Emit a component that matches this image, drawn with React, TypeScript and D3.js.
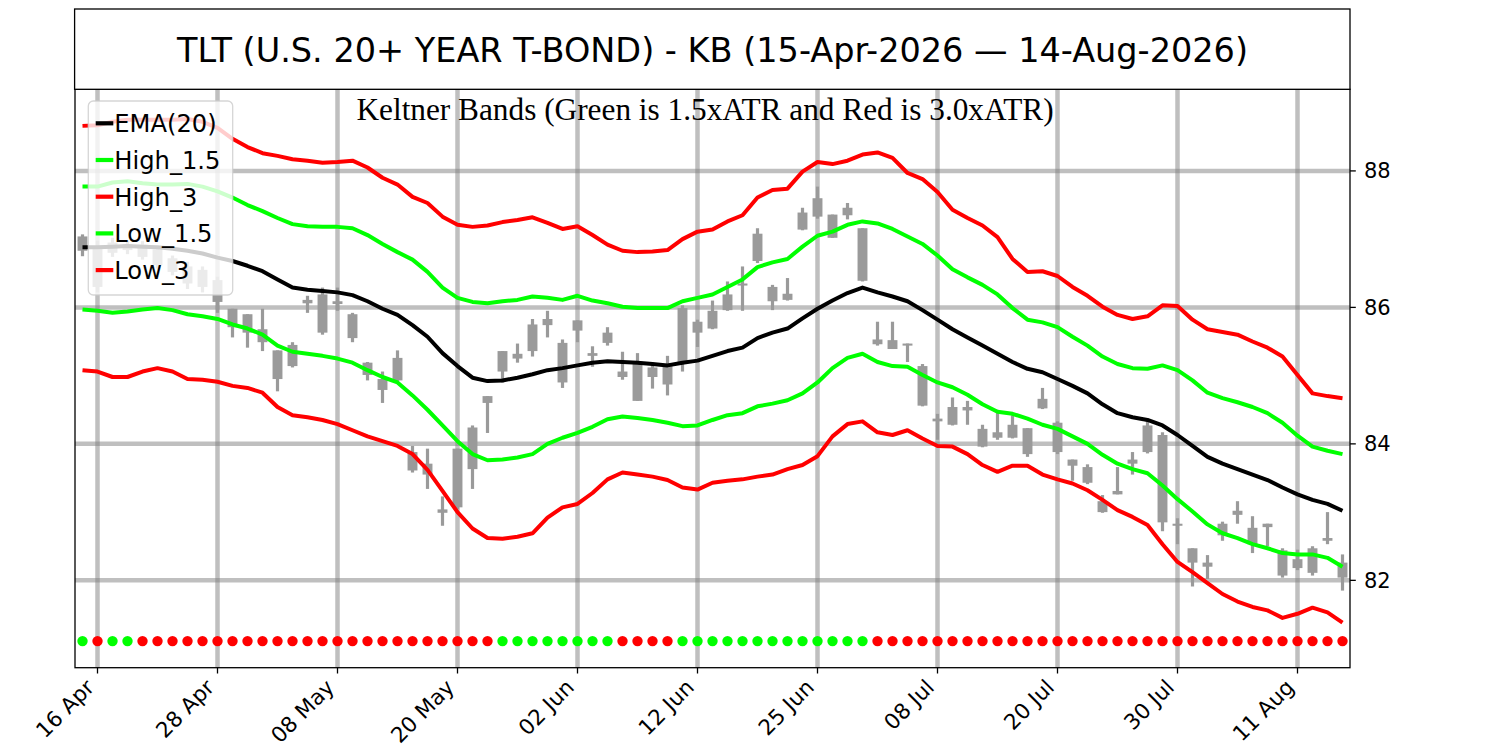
import React from "react";
import * as d3 from "d3";

// ── Data ──────────────────────────────────────────────────────────────────────

const dates = [
  "15 Apr", "16 Apr", "17 Apr", "20 Apr", "21 Apr", "22 Apr", "23 Apr", "24 Apr", "27 Apr", "28 Apr",
  "29 Apr", "30 Apr", "01 May", "04 May", "05 May", "06 May", "07 May", "08 May", "11 May", "12 May",
  "13 May", "14 May", "15 May", "18 May", "19 May", "20 May", "21 May", "22 May", "26 May", "27 May",
  "28 May", "29 May", "01 Jun", "02 Jun", "03 Jun", "04 Jun", "05 Jun", "08 Jun", "09 Jun", "10 Jun",
  "11 Jun", "12 Jun", "15 Jun", "16 Jun", "17 Jun", "18 Jun", "22 Jun", "23 Jun", "24 Jun", "25 Jun",
  "26 Jun", "29 Jun", "30 Jun", "01 Jul", "02 Jul", "06 Jul", "07 Jul", "08 Jul", "09 Jul", "10 Jul",
  "13 Jul", "14 Jul", "15 Jul", "16 Jul", "17 Jul", "20 Jul", "21 Jul", "22 Jul", "23 Jul", "24 Jul",
  "27 Jul", "28 Jul", "29 Jul", "30 Jul", "31 Jul", "03 Aug", "04 Aug", "05 Aug", "06 Aug", "07 Aug",
  "10 Aug", "11 Aug", "12 Aug", "13 Aug", "14 Aug",
];

const xTickLabels = [
  "16 Apr", "28 Apr", "08 May", "20 May", "02 Jun", "12 Jun",
  "25 Jun", "08 Jul", "20 Jul", "30 Jul", "11 Aug",
];
const yTicks = [82, 84, 86, 88];

const openPx = [
  86.83, 86.90, 86.80, 86.84, 86.92, 86.85, 86.72, 86.60, 86.55, 86.40,
  85.98, 85.90, 85.68, 85.37, 85.45, 86.11, 86.19, 86.09, 85.90, 85.19,
  84.95, 85.26, 83.88, 83.71, 83.04, 83.93, 84.24, 84.70, 85.06, 85.25,
  85.36, 85.74, 84.90, 85.66, 85.29, 85.48, 85.06, 85.20, 85.12, 85.14,
  85.20, 85.63, 85.69, 85.96, 86.32, 86.68, 86.09, 86.11, 87.14, 87.33,
  87.02, 87.35, 87.16, 85.53, 85.52, 85.47, 85.14, 84.37, 84.54, 84.54,
  84.22, 84.17, 84.28, 84.23, 84.66, 84.31, 83.77, 83.66, 83.16, 83.31,
  83.77, 84.27, 84.13, 82.83, 82.47, 82.26, 82.83, 83.02, 82.77, 82.83,
  82.44, 82.31, 82.47, 82.62, 82.26,
];
const closePx = [
  87.04, 86.30, 86.95, 86.93, 86.74, 86.62, 86.52, 86.35, 86.30, 86.08,
  85.71, 85.63, 85.49, 84.95, 85.14, 86.06, 85.63, 86.05, 85.55, 85.01,
  84.79, 84.93, 83.61, 83.55, 82.99, 83.07, 83.63, 84.60, 85.36, 85.32,
  85.75, 85.83, 85.48, 85.81, 85.33, 85.63, 84.98, 84.63, 84.98, 84.87,
  85.99, 85.79, 85.95, 86.19, 86.35, 87.08, 86.30, 86.20, 87.39, 87.60,
  87.36, 87.46, 86.39, 85.46, 85.39, 85.44, 84.56, 84.33, 84.28, 84.49,
  83.96, 84.09, 84.09, 83.85, 84.52, 83.88, 83.68, 83.43, 83.00, 83.26,
  83.71, 83.88, 82.85, 82.80, 82.26, 82.20, 82.66, 82.96, 82.53, 82.78,
  82.07, 82.18, 82.11, 82.58, 82.04,
];
const highPx = [
  87.07, 86.98, 87.02, 86.98, 86.97, 86.90, 86.76, 86.67, 86.60, 86.45,
  85.98, 85.90, 85.98, 85.37, 85.49, 86.17, 86.29, 86.29, 85.92, 85.20,
  85.06, 85.37, 83.97, 83.93, 83.23, 83.93, 84.27, 84.70, 85.36, 85.47,
  85.83, 85.95, 85.53, 85.81, 85.43, 85.71, 85.35, 85.33, 85.19, 85.29,
  86.03, 85.82, 86.10, 86.38, 86.60, 87.16, 86.33, 86.43, 87.46, 87.77,
  87.36, 87.53, 87.16, 85.79, 85.79, 85.47, 85.17, 84.44, 84.68, 84.63,
  84.28, 84.50, 84.42, 84.23, 84.82, 84.33, 83.77, 83.70, 83.25, 83.66,
  83.88, 84.33, 84.17, 82.91, 82.47, 82.37, 82.86, 83.16, 82.94, 82.83,
  82.47, 82.45, 82.50, 83.00, 82.38,
];
const lowPx = [
  86.75, 86.22, 86.74, 86.78, 86.70, 86.57, 86.47, 86.27, 86.22, 85.92,
  85.56, 85.41, 85.36, 84.77, 85.12, 85.92, 85.60, 85.95, 85.49, 84.93,
  84.60, 84.90, 83.58, 83.34, 82.80, 83.04, 83.34, 84.16, 84.90, 85.19,
  85.28, 85.56, 84.82, 85.49, 85.13, 85.44, 84.94, 84.63, 84.81, 84.71,
  85.06, 85.42, 85.68, 85.95, 85.95, 86.65, 85.96, 86.10, 87.13, 87.30,
  87.02, 87.29, 86.38, 85.44, 85.39, 85.20, 84.55, 84.06, 84.27, 84.28,
  83.95, 84.06, 84.08, 83.81, 84.51, 83.85, 83.46, 83.41, 82.99, 83.26,
  83.55, 83.86, 82.72, 82.53, 81.91, 82.02, 82.58, 82.83, 82.40, 82.50,
  82.04, 82.15, 82.07, 82.53, 81.85,
];

const ema20 = [
  86.88, 86.88, 86.89, 86.90, 86.89, 86.88, 86.86, 86.83, 86.79, 86.73,
  86.68, 86.61, 86.53, 86.41, 86.29, 86.26, 86.24, 86.22, 86.18, 86.09,
  85.98, 85.89, 85.74, 85.57, 85.33, 85.14, 84.97, 84.92, 84.93, 84.97,
  85.02, 85.08, 85.11, 85.15, 85.19, 85.21, 85.20, 85.19, 85.17, 85.15,
  85.19, 85.22, 85.29, 85.36, 85.41, 85.55, 85.63, 85.69, 85.84, 85.98,
  86.10, 86.21, 86.29, 86.22, 86.16, 86.09, 85.96, 85.82, 85.68, 85.56,
  85.44, 85.32, 85.20, 85.10, 85.05, 84.95, 84.85, 84.74, 84.58, 84.45,
  84.39, 84.35, 84.27, 84.13, 83.97, 83.81, 83.71, 83.63, 83.55, 83.47,
  83.36, 83.26, 83.18, 83.12, 83.02,
];
const high15 = [
  87.77, 87.77, 87.83, 87.85, 87.82, 87.80, 87.80, 87.81, 87.77, 87.70,
  87.61, 87.50, 87.41, 87.31, 87.22, 87.19, 87.18, 87.18, 87.16, 87.06,
  86.93, 86.81, 86.70, 86.52, 86.29, 86.14, 86.08, 86.06, 86.09, 86.11,
  86.16, 86.14, 86.11, 86.17, 86.10, 86.06, 86.01, 85.99, 85.99, 85.99,
  86.09, 86.14, 86.19, 86.30, 86.41, 86.59, 86.66, 86.71, 86.89, 87.05,
  87.11, 87.21, 87.26, 87.23, 87.15, 87.04, 86.93, 86.76, 86.56, 86.44,
  86.33, 86.19, 85.99, 85.82, 85.78, 85.71, 85.57, 85.44, 85.28, 85.17,
  85.11, 85.10, 85.15, 85.08, 84.93, 84.75, 84.67, 84.61, 84.54, 84.45,
  84.31, 84.12, 83.96, 83.90, 83.85,
];
const high3 = [
  88.66, 88.67, 88.72, 88.75, 88.75, 88.75, 88.75, 88.76, 88.72, 88.63,
  88.47, 88.35, 88.26, 88.22, 88.17, 88.15, 88.12, 88.13, 88.15, 88.05,
  87.90, 87.80, 87.62, 87.53, 87.33, 87.21, 87.18, 87.20, 87.25, 87.28,
  87.32, 87.24, 87.15, 87.19, 87.06, 86.92, 86.83, 86.81, 86.82, 86.84,
  87.00, 87.11, 87.14, 87.26, 87.35, 87.61, 87.72, 87.74, 87.99, 88.13,
  88.10, 88.15, 88.24, 88.27, 88.19, 87.97, 87.88, 87.69, 87.43, 87.31,
  87.20, 87.03, 86.71, 86.52, 86.53, 86.46, 86.30, 86.17, 86.01, 85.89,
  85.83, 85.87, 86.03, 86.02, 85.82, 85.68, 85.64, 85.60, 85.50, 85.41,
  85.28, 85.01, 84.74, 84.70, 84.67,
];
const low15 = [
  85.97, 85.95, 85.92, 85.94, 85.97, 85.99, 85.96, 85.90, 85.87, 85.83,
  85.75, 85.69, 85.60, 85.44, 85.35, 85.32, 85.29, 85.25, 85.19, 85.08,
  84.98, 84.90, 84.71, 84.50, 84.27, 84.04, 83.85, 83.76, 83.77, 83.80,
  83.85, 84.00, 84.09, 84.16, 84.25, 84.36, 84.40, 84.38, 84.35, 84.31,
  84.26, 84.27, 84.35, 84.42, 84.45, 84.55, 84.59, 84.64, 84.74, 84.90,
  85.11, 85.26, 85.32, 85.20, 85.14, 85.13, 85.01, 84.90, 84.83, 84.72,
  84.58, 84.47, 84.44, 84.37, 84.28, 84.22, 84.11, 84.00, 83.84, 83.71,
  83.63, 83.57, 83.39, 83.19, 83.01, 82.82, 82.69, 82.62, 82.53, 82.47,
  82.40, 82.38, 82.38, 82.33, 82.20,
];
const low3 = [
  85.08, 85.06, 84.98, 84.98, 85.06, 85.11, 85.06, 84.95, 84.94, 84.91,
  84.85, 84.82, 84.75, 84.54, 84.42, 84.39, 84.35, 84.29, 84.20, 84.11,
  84.04, 83.97, 83.85, 83.62, 83.31, 83.00, 82.76, 82.62, 82.61, 82.64,
  82.69, 82.92, 83.07, 83.12, 83.28, 83.48, 83.58, 83.55, 83.52, 83.47,
  83.36, 83.33, 83.43, 83.46, 83.48, 83.52, 83.55, 83.63, 83.69, 83.82,
  84.11, 84.29, 84.33, 84.17, 84.13, 84.20, 84.08, 83.97, 83.96, 83.85,
  83.69, 83.59, 83.68, 83.68, 83.55, 83.48, 83.42, 83.32, 83.18, 83.03,
  82.93, 82.81, 82.53, 82.27, 82.12, 81.96, 81.80, 81.69, 81.61, 81.56,
  81.45, 81.51, 81.60, 81.53, 81.38,
];

// G = close above EMA (green dot), R = below (red dot)
const signal = (
  "GRGG" +
  "RRRRRRRRRRRRRRRRRRRRRRRR" +
  "GGGGGGGG" +
  "RRRR" +
  "GGGGGGGGGGGGG" +
  "RRRRRRRRRRRRRRRRRRRRRRRRRRRRRRRR"
).split("");
const SIGNAL_LEVEL = 81.11;

const TITLE = "TLT (U.S. 20+ YEAR T-BOND) - KB (15-Apr-2026 \u2014 14-Aug-2026)";
const SUBTITLE = "Keltner Bands (Green is 1.5xATR and Red is 3.0xATR)";

// ── Layout ────────────────────────────────────────────────────────────────────

const W = 1500;
const H = 750;
const PLOT = { left: 75, right: 1350, top: 89.3, bottom: 667.7 };
const TITLE_BOX = { left: 74.6, top: 9, bottom: 89.3 };
const SANS = "'DejaVu Sans', Verdana, sans-serif";
const SERIF = "'Liberation Serif', 'Times New Roman', serif";

const LIME = "#00ff00";
const RED = "#ff0000";
const CANDLE = "#9a9a9a";

const series = [
  { name: "EMA(20)", values: ema20, color: "#000000" },
  { name: "High_1.5", values: high15, color: LIME },
  { name: "High_3", values: high3, color: RED },
  { name: "Low_1.5", values: low15, color: LIME },
  { name: "Low_3", values: low3, color: RED },
];

export default function App() {
  const x = d3
    .scaleLinear()
    .domain([-0.5, dates.length - 0.5])
    .range([PLOT.left, PLOT.right]);
  const y = d3
    .scaleLinear()
    .domain([80.72, 89.196])
    .range([PLOT.bottom, PLOT.top]);

  const line = d3
    .line<number>()
    .x((_, i) => x(i))
    .y((d) => y(d));

  const bodyW = x(0.33) - x(0);
  const tickIdx = xTickLabels.map((lab) => dates.indexOf(lab));

  return (
    <svg
      width={W}
      height={H}
      style={{ position: "absolute", left: 0, top: 0, background: "#fff" }}
    >
      <rect x={0} y={0} width={W} height={H} fill="#fff" />

      {/* grid */}
      <g stroke="#808080" strokeOpacity={0.5} strokeWidth={4.5}>
        {tickIdx.map((i) => (
          <line key={"gx" + i} x1={x(i)} x2={x(i)} y1={PLOT.top} y2={PLOT.bottom} />
        ))}
        {yTicks.map((t) => (
          <line key={"gy" + t} x1={PLOT.left} x2={PLOT.right} y1={y(t)} y2={y(t)} />
        ))}
      </g>

      {/* candles */}
      <g fill={CANDLE} stroke="none">
        {dates.map((_, i) => {
          const top = Math.max(openPx[i], closePx[i]);
          const bot = Math.min(openPx[i], closePx[i]);
          return (
            <g key={"c" + i}>
              <rect x={x(i) - 1.6} width={3.2} y={y(highPx[i])} height={y(lowPx[i]) - y(highPx[i])} />
              <rect
                x={x(i) - bodyW}
                width={bodyW * 2}
                y={y(top)}
                height={Math.max(y(bot) - y(top), 1.5)}
              />
            </g>
          );
        })}
      </g>

      {/* band lines */}
      {series.map((s) => (
        <path
          key={s.name}
          d={line(s.values) ?? ""}
          fill="none"
          stroke={s.color}
          strokeWidth={4}
          strokeLinejoin="round"
        />
      ))}

      {/* signal dots */}
      {signal.map((sg, i) => (
        <circle key={"d" + i} cx={x(i)} cy={y(SIGNAL_LEVEL)} r={5.2} fill={sg === "G" ? LIME : RED} />
      ))}

      {/* axes frame */}
      <rect
        x={PLOT.left}
        y={PLOT.top}
        width={PLOT.right - PLOT.left}
        height={PLOT.bottom - PLOT.top}
        fill="none"
        stroke="#000"
        strokeWidth={1.3}
      />

      {/* x ticks */}
      {tickIdx.map((i, k) => (
        <g key={"xt" + i}>
          <line x1={x(i)} x2={x(i)} y1={PLOT.bottom} y2={PLOT.bottom + 5.8} stroke="#000" strokeWidth={1.3} />
          <text
            transform={`translate(${x(i) - 2},${PLOT.bottom + 21}) rotate(-45)`}
            textAnchor="end"
            fontFamily={SANS}
            fontSize={21.5}
            fill="#000"
          >
            {xTickLabels[k]}
          </text>
        </g>
      ))}

      {/* y ticks (right side) */}
      {yTicks.map((t) => (
        <g key={"yt" + t}>
          <line x1={PLOT.right} x2={PLOT.right + 5.8} y1={y(t)} y2={y(t)} stroke="#000" strokeWidth={1.3} />
          <text
            x={PLOT.right + 14}
            y={y(t)}
            dy="0.36em"
            fontFamily={SANS}
            fontSize={21}
            fill="#000"
          >
            {t}
          </text>
        </g>
      ))}

      {/* subtitle */}
      <text x={705} y={120} textAnchor="middle" fontFamily={SERIF} fontSize={31.3} fill="#000">
        {SUBTITLE}
      </text>

      {/* legend */}
      <g>
        <rect
          x={88.3}
          y={101}
          width={144.4}
          height={194}
          rx={5}
          fill="#fff"
          fillOpacity={0.8}
          stroke="#cccccc"
          strokeOpacity={0.8}
          strokeWidth={1.3}
        />
        {series.map((s, k) => {
          const cy = 123.3 + 36.7 * k;
          return (
            <g key={"lg" + s.name}>
              <line x1={95.7} x2={113.3} y1={cy} y2={cy} stroke={s.color} strokeWidth={4.2} />
              <text x={114.3} y={cy + 8.8} fontFamily={SANS} fontSize={24.2} fill="#000">
                {s.name}
              </text>
            </g>
          );
        })}
      </g>

      {/* title box */}
      <rect
        x={TITLE_BOX.left}
        y={TITLE_BOX.top}
        width={PLOT.right - TITLE_BOX.left}
        height={TITLE_BOX.bottom - TITLE_BOX.top}
        fill="#fff"
        stroke="#000"
        strokeWidth={1.3}
      />
      <text
        x={(PLOT.left + PLOT.right) / 2}
        y={62}
        textAnchor="middle"
        fontFamily={SANS}
        fontSize={33.5}
        fill="#000"
      >
        {TITLE}
      </text>
    </svg>
  );
}
